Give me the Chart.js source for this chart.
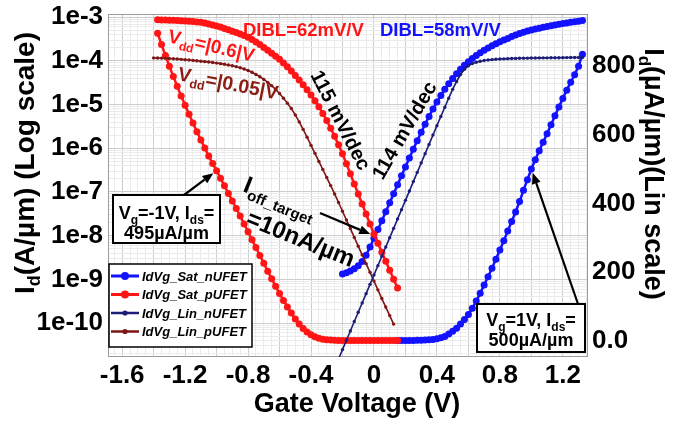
<!DOCTYPE html>
<html>
<head>
<meta charset="utf-8">
<title>UFET Id-Vg</title>
<script src="https://cdn.jsdelivr.net/npm/chart.js@4.4.0/dist/chart.umd.min.js"></script>
<style>
  html, body { margin: 0; padding: 0; background: #fff; }
  #chart { display: block; }
</style>
</head>
<body>
<canvas id="chart" width="683" height="429"></canvas>
<script>
// Gate voltage sweeps (V)
const vgP = [-1.4, -1.375, -1.35, -1.325, -1.3, -1.275, -1.25, -1.225, -1.2, -1.175, -1.15, -1.125, -1.1, -1.075, -1.05, -1.025,
  -1.0, -0.975, -0.95, -0.925, -0.9, -0.875, -0.85, -0.825, -0.8, -0.775, -0.75, -0.725, -0.7, -0.675, -0.65, -0.625,
  -0.6, -0.575, -0.55, -0.525, -0.5, -0.475, -0.45, -0.425, -0.4, -0.375, -0.35, -0.325, -0.3, -0.275, -0.25, -0.225,
  -0.2, -0.175, -0.15, -0.125, -0.1, -0.075, -0.05, -0.025, 0, 0.025, 0.05, 0.075, 0.1, 0.125, 0.15];
const vgN = [-0.225, -0.2, -0.175, -0.15, -0.125, -0.1, -0.075, -0.05, -0.025, 0, 0.025, 0.05, 0.075, 0.1, 0.125, 0.15,
  0.175, 0.2, 0.225, 0.25, 0.275, 0.3, 0.325, 0.35, 0.375, 0.4, 0.425, 0.45, 0.475, 0.5, 0.525, 0.55,
  0.575, 0.6, 0.625, 0.65, 0.675, 0.7, 0.725, 0.75, 0.775, 0.8, 0.825, 0.85, 0.875, 0.9, 0.925, 0.95,
  0.975, 1.0, 1.025, 1.05, 1.075, 1.1, 1.125, 1.15, 1.175, 1.2, 1.225, 1.25, 1.275, 1.3, 1.325];

// pUFET, |Vdd| = 0.6 V: Id in A/um (log axis) and uA/um (lin axis); sweep starts at -1.375 V
const satPLog = [null, 8.77e-4, 8.71e-4, 8.65e-4, 8.59e-4, 8.51e-4, 8.43e-4, 8.34e-4, 8.22e-4, 8.11e-4,
  7.98e-4, 7.83e-4, 7.67e-4, 7.36e-4, 7.03e-4, 6.68e-4, 6.32e-4, 5.96e-4, 5.57e-4, 5.19e-4,
  4.81e-4, 4.47e-4, 4.14e-4, 3.82e-4, 3.51e-4, 3.09e-4, 2.72e-4, 2.37e-4, 2.04e-4, 1.76e-4,
  1.51e-4, 1.29e-4, 1.09e-4, 9.0e-5, 7.33e-5, 5.89e-5, 4.68e-5, 3.67e-5, 2.85e-5, 2.19e-5,
  1.66e-5, 1.23e-5, 8.91e-6, 6.31e-6, 4.32e-6, 2.88e-6, 1.88e-6, 1.20e-6, 7.50e-7, 4.42e-7,
  2.60e-7, 1.53e-7, 9.02e-8, 5.31e-8, 3.13e-8, 1.84e-8, 1.08e-8, 6.68e-9, 4.17e-9, 2.60e-9,
  1.62e-9, 1.01e-9, 6.31e-10];
const satPLin = [null, 896, 863, 831, 800, 770, 741, 713, 686, 660, 634, 609, 585, 561, 538, 516, 495,
  473, 451, 429, 407, 385, 363, 340, 317, 294, 271, 248, 225, 202, 180, 158,
  137, 117, 98, 80, 63, 48, 35, 25, 17, 11, 7, 4, 2.5, 1.5, 0.8, 0.4, 0.2,
  0.1, 0.06, 0.03, 0.02, 0.01, 0.01, 0, 0, 0, 0, 0, 0, 0, 0];
// pUFET, |Vdd| = 0.05 V
const linPLog = [1.175e-4, 1.167e-4, 1.159e-4, 1.148e-4, 1.135e-4, 1.122e-4, 1.107e-4, 1.089e-4, 1.069e-4, 1.050e-4,
  1.030e-4, 1.009e-4, 9.89e-5, 9.66e-5, 9.44e-5, 9.20e-5, 8.95e-5, 8.69e-5, 8.41e-5, 8.11e-5,
  7.78e-5, 7.41e-5, 7.00e-5, 6.53e-5, 6.03e-5, 5.50e-5, 4.92e-5, 4.35e-5, 3.78e-5, 3.24e-5,
  2.72e-5, 2.24e-5, 1.80e-5, 1.41e-5, 1.08e-5, 8.13e-6, 5.82e-6, 4.03e-6, 2.72e-6, 1.80e-6,
  1.17e-6, 7.67e-7, 5.01e-7, 3.27e-7, 2.14e-7, 1.40e-7, 9.02e-8, 5.75e-8, 3.63e-8, 2.29e-8,
  1.45e-8, 9.12e-9, 5.75e-9, 3.63e-9, 2.29e-9, 1.45e-9, 9.12e-10, 5.75e-10, 3.63e-10, 2.32e-10,
  1.48e-10, 9.44e-11];

// nUFET, Vdd = 0.6 V
const satNLog = [null,
  1.32e-9, 1.41e-9, 1.55e-9, 1.74e-9, 2.04e-9, 2.57e-9, 3.55e-9, 5.50e-9, 8.71e-9,
  1.38e-8, 2.21e-8, 3.55e-8, 5.69e-8, 9.12e-8, 1.46e-7, 2.34e-7, 3.76e-7, 6.03e-7, 9.55e-7,
  1.50e-6, 2.32e-6, 3.55e-6, 5.37e-6, 7.94e-6, 1.15e-5, 1.62e-5, 2.24e-5, 3.02e-5, 3.98e-5,
  5.13e-5, 6.46e-5, 7.94e-5, 9.55e-5, 1.14e-4, 1.33e-4, 1.54e-4, 1.76e-4, 1.99e-4, 2.23e-4,
  2.48e-4, 2.74e-4, 3.01e-4, 3.27e-4, 3.63e-4, 3.94e-4, 4.24e-4, 4.54e-4, 4.83e-4, 5.11e-4,
  5.37e-4, 5.64e-4, 5.90e-4, 6.17e-4, 6.43e-4, 6.68e-4, 6.93e-4, 7.18e-4, 7.43e-4, 7.67e-4,
  7.93e-4, 8.17e-4, 8.41e-4];
const satNLin = [null, null, null, null, null, null, null, null, null, null, null, null, null, null, null,
  0, 0, 0.1, 0.2, 0.3, 0.5, 0.8, 1.2, 2, 3, 5, 8, 12, 19, 27, 36, 48, 61, 76, 94,
  115, 138, 162, 186, 211, 237, 264, 291, 319, 347, 375, 405, 438, 469, 500,
  527, 553, 578, 603, 629, 655, 681, 706, 730, 753, 775, 800, 835];
// nUFET, Vdd = 0.05 V
const linNLog = [1.50e-11, 2.46e-11, 4.02e-11, 6.58e-11, 1.08e-10, 1.76e-10, 2.88e-10, 4.71e-10, 7.69e-10,
  1.26e-9, 2.06e-9, 3.37e-9, 5.51e-9, 9.02e-9, 1.47e-8, 2.41e-8, 3.94e-8, 6.44e-8,
  1.05e-7, 1.73e-7, 2.82e-7, 4.61e-7, 7.55e-7, 1.23e-6, 2.02e-6, 3.30e-6, 5.37e-6, 8.71e-6,
  1.41e-5, 2.24e-5, 3.39e-5, 4.90e-5, 6.46e-5, 7.76e-5, 8.71e-5, 9.38e-5, 9.86e-5,
  1.023e-4, 1.052e-4, 1.074e-4, 1.091e-4, 1.107e-4, 1.119e-4, 1.130e-4, 1.138e-4, 1.146e-4, 1.151e-4,
  1.156e-4, 1.161e-4, 1.167e-4, 1.172e-4, 1.175e-4, 1.178e-4, 1.180e-4, 1.183e-4, 1.186e-4, 1.189e-4,
  1.191e-4, 1.194e-4, 1.197e-4, 1.199e-4, 1.202e-4, 1.205e-4];

// Axis ticks
const xTicks = [-1.6, -1.2, -0.8, -0.4, 0, 0.4, 0.8, 1.2];
const xTickLabels = ['-1.6', '-1.2', '-0.8', '-0.4', '0', '0.4', '0.8', '1.2'];
const logTicks = [1e-10, 1e-9, 1e-8, 1e-7, 1e-6, 1e-5, 1e-4, 1e-3];
const logTickLabels = ['1e-10', '1e-9', '1e-8', '1e-7', '1e-6', '1e-5', '1e-4', '1e-3'];
const linTicks = [0, 200, 400, 600, 800];
const linTickLabels = ['0.0', '200', '400', '600', '800'];

const FONT = '"Liberation Sans", Arial, sans-serif';
const BLUE = '#1212ff', RED = '#ff1515', NAVY = '#1d1d78', MAROON = '#7e1616';
const GRID_MAJOR = '#cdcdcd', GRID_MINOR = '#ebebeb';

Chart.defaults.font.family = FONT;

function toPoints(xs, ys) {
  const out = [];
  ys.forEach((y, i) => { if (y !== null) out.push({ x: xs[i], y: y }); });
  return out;
}

function pickLabel(values, labels, v, useLog) {
  const i = values.findIndex(t => useLog ? Math.abs(Math.log10(t) - Math.log10(v)) < 1e-6 : Math.abs(t - v) < 1e-6);
  return i >= 0 ? labels[i] : '';
}

const satStyle = c => ({ borderColor: c, backgroundColor: c, pointBackgroundColor: c, borderWidth: 2.5, pointRadius: 3.5, pointBorderWidth: 0, pointHoverRadius: 0 });
const linStyle = c => ({ borderColor: c, backgroundColor: c, pointBackgroundColor: c, borderWidth: 1.6, pointRadius: 1.7, pointBorderWidth: 0, pointHoverRadius: 0 });

const datasets = [
  { label: 'IdVg_Lin_nUFET', data: toPoints(vgN, linNLog), yAxisID: 'y', order: 0, legendRank: 2, ...linStyle(NAVY) },
  { label: 'IdVg_Lin_pUFET', data: toPoints(vgP, linPLog), yAxisID: 'y', order: 1, legendRank: 3, ...linStyle(MAROON) },
  { label: 'IdVg_Sat_pUFET', data: toPoints(vgP, satPLog), yAxisID: 'y', order: 2, legendRank: 1, ...satStyle(RED) },
  { label: 'IdVg_Sat_pUFET', data: toPoints(vgP, satPLin), yAxisID: 'y2', order: 3, ...satStyle(RED) },
  { label: 'IdVg_Sat_nUFET', data: toPoints(vgN, satNLog), yAxisID: 'y', order: 4, legendRank: 0, ...satStyle(BLUE) },
  { label: 'IdVg_Sat_nUFET', data: toPoints(vgN, satNLin), yAxisID: 'y2', order: 5, ...satStyle(BLUE) }
];

// text made of runs: [text, size, baseline shift]
function drawRuns(ctx, runs, x, y, align, style) {
  const fontOf = r => `${style || ''} bold ${r[1]}px ${FONT}`;
  let w = 0;
  runs.forEach(r => { ctx.font = fontOf(r); w += ctx.measureText(r[0]).width; });
  let cx = align === 'center' ? x - w / 2 : x;
  ctx.textAlign = 'left';
  ctx.textBaseline = 'alphabetic';
  runs.forEach(r => {
    ctx.font = fontOf(r);
    ctx.fillText(r[0], cx, y + (r[2] || 0));
    cx += ctx.measureText(r[0]).width;
  });
}

function rotated(ctx, x, y, deg, fn) {
  ctx.save();
  ctx.translate(x, y);
  ctx.rotate(deg * Math.PI / 180);
  fn();
  ctx.restore();
}

function arrow(ctx, x0, y0, x1, y1) {
  const a = Math.atan2(y1 - y0, x1 - x0);
  const tx = x1 - 4 * Math.cos(a), ty = y1 - 4 * Math.sin(a);
  const L = 11, W = 4.5;
  const bx = tx - L * Math.cos(a), by = ty - L * Math.sin(a);
  ctx.strokeStyle = '#000';
  ctx.fillStyle = '#000';
  ctx.lineWidth = 2.2;
  ctx.beginPath(); ctx.moveTo(x0, y0); ctx.lineTo(bx, by); ctx.stroke();
  ctx.beginPath();
  ctx.moveTo(tx, ty);
  ctx.lineTo(bx - W * Math.sin(a), by + W * Math.cos(a));
  ctx.lineTo(bx + W * Math.sin(a), by - W * Math.cos(a));
  ctx.closePath();
  ctx.fill();
}

function box(ctx, x, y, w, h) {
  ctx.fillStyle = '#fff';
  ctx.fillRect(x, y, w, h);
  ctx.strokeStyle = '#000';
  ctx.lineWidth = 2;
  ctx.strokeRect(x, y, w, h);
}

const decorations = {
  id: 'decorations',
  beforeDatasetsDraw(chart) {
    const { ctx, chartArea: a } = chart;
    ctx.save();
    ctx.strokeStyle = '#9c9c9c';
    ctx.lineWidth = 1;
    ctx.strokeRect(a.left + 0.5, a.top + 0.5, a.width - 1, a.height - 1);
    ctx.restore();
  },
  afterDatasetsDraw(chart) {
    const { ctx, scales } = chart;
    const sx = scales.x, sLog = scales.y, sLin = scales.y2;
    ctx.save();

    // DIBL labels
    ctx.fillStyle = RED;
    drawRuns(ctx, [['DIBL=62mV/V', 18.5]], 243, 36, 'left');
    ctx.fillStyle = BLUE;
    drawRuns(ctx, [['DIBL=58mV/V', 18.5]], 380, 36, 'left');

    // drain bias labels
    rotated(ctx, 167, 42, 13, () => {
      ctx.fillStyle = RED;
      drawRuns(ctx, [['V', 19], ['dd', 12, 5], ['=|0.6|V', 19]], 0, 0, 'left');
    });
    rotated(ctx, 177, 80, 11, () => {
      ctx.fillStyle = '#8a1c14';
      drawRuns(ctx, [['V', 19.5], ['dd', 12.5, 5], ['=|0.05|V', 19.5]], 0, 0, 'left');
    });

    // subthreshold slopes
    rotated(ctx, 341, 120, 63, () => { ctx.fillStyle = '#000'; drawRuns(ctx, [['115 mV/dec', 20]], 0, 7, 'center'); });
    rotated(ctx, 404, 130, -60, () => { ctx.fillStyle = '#000'; drawRuns(ctx, [['114 mV/dec', 20]], 0, 7, 'center'); });

    // off-current target
    rotated(ctx, 242, 191, 22, () => {
      ctx.fillStyle = '#000';
      drawRuns(ctx, [['I', 24], ['off_target', 15, 6]], 0, 0, 'left');
      drawRuns(ctx, [['=10nA/µm', 24]], 15, 30, 'left');
    });
    arrow(ctx, 320, 213, sx.getPixelForValue(0), sLog.getPixelForValue(1e-8));

    // on-current call-outs
    arrow(ctx, 184, 195, sx.getPixelForValue(-1.0), sLin.getPixelForValue(495));
    box(ctx, 113, 195, 107, 48);
    ctx.fillStyle = '#000';
    drawRuns(ctx, [['V', 18], ['g', 12, 5], ['=-1V, I', 18], ['ds', 12, 5], ['=', 18]], 166.5, 219, 'center');
    drawRuns(ctx, [['495µA/µm', 18]], 166.5, 239, 'center');

    arrow(ctx, 578, 304, sx.getPixelForValue(1.0), sLin.getPixelForValue(500));
    box(ctx, 477, 304, 108, 48);
    ctx.fillStyle = '#000';
    drawRuns(ctx, [['V', 18], ['g', 12, 5], ['=1V, I', 18], ['ds', 12, 5], ['=', 18]], 531, 326, 'center');
    drawRuns(ctx, [['500µA/µm', 18]], 531, 346, 'center');

    // legend
    const entries = chart.data.datasets.filter(d => d.legendRank !== undefined)
      .sort((p, q) => p.legendRank - q.legendRank);
    ctx.fillStyle = '#fff';
    ctx.fillRect(109, 264, 143, 83);
    ctx.strokeStyle = '#000';
    ctx.lineWidth = 1.5;
    ctx.strokeRect(109, 264, 143, 83);
    entries.forEach((d, i) => {
      const y = 276 + i * 18.5;
      const big = d.pointRadius > 3;
      ctx.strokeStyle = d.borderColor;
      ctx.lineWidth = big ? 3 : 2.5;
      ctx.beginPath(); ctx.moveTo(111, y); ctx.lineTo(139, y); ctx.stroke();
      ctx.fillStyle = d.borderColor;
      ctx.beginPath(); ctx.arc(125, y, big ? 4 : 2.6, 0, Math.PI * 2); ctx.fill();
      ctx.fillStyle = '#000';
      drawRuns(ctx, [[d.label, 13]], 142, y + 4.7, 'left', 'italic');
    });

    ctx.restore();
  },
  afterDraw(chart) {
    const { ctx } = chart;
    ctx.save();
    ctx.fillStyle = '#000';
    drawRuns(ctx, [['Gate Voltage (V)', 27]], 357, 412, 'center');
    rotated(ctx, 34, 163, -90, () => {
      ctx.fillStyle = '#000';
      drawRuns(ctx, [['I', 28], ['d', 18, 6], ['(A/µm) (Log scale)', 28]], 0, 0, 'center');
    });
    rotated(ctx, 645, 174, 90, () => {
      ctx.fillStyle = '#000';
      drawRuns(ctx, [['I', 27], ['d', 17, 6], ['(µA/µm)(Lin scale)', 27]], 0, 0, 'center');
    });
    ctx.restore();
  }
};

const tickFont = { size: 26, weight: 'bold' };

new Chart(document.getElementById('chart').getContext('2d'), {
  type: 'line',
  data: { datasets: datasets },
  options: {
    responsive: false,
    animation: false,
    events: [],
    devicePixelRatio: 1,
    layout: { padding: { top: 14, left: 0, right: 0, bottom: 0 } },
    elements: { line: { tension: 0 } },
    plugins: { legend: { display: false }, tooltip: { enabled: false } },
    scales: {
      x: {
        type: 'linear', min: -1.69, max: 1.36,
        afterBuildTicks: s => {
          const t = [];
          for (let k = -33; k <= 27; k++) t.push({ value: +(k * 0.05).toFixed(2) });
          s.ticks = t;
        },
        afterFit: s => { s.height = 72; s.paddingLeft = 0; s.paddingRight = 0; },
        grid: {
          drawTicks: false,
          color: c => {
            const r = c.tick.value / 0.2;
            return Math.abs(r - Math.round(r)) < 1e-6 ? GRID_MAJOR : GRID_MINOR;
          }
        },
        border: { display: false },
        ticks: {
          autoSkip: false, maxRotation: 0, minRotation: 0, padding: 3, color: '#000', font: tickFont,
          callback: v => pickLabel(xTicks, xTickLabels, v, false)
        }
      },
      y: {
        type: 'logarithmic', position: 'left', min: 1.667e-11, max: 1.19e-3,
        afterBuildTicks: s => {
          const t = [];
          for (let e = -11; e <= -3; e++) {
            for (let m = 1; m <= 9; m++) {
              const v = m * Math.pow(10, e);
              if (v >= s.min && v <= s.max) t.push({ value: v });
            }
          }
          s.ticks = t;
        },
        afterFit: s => { s.width = 108; s.paddingTop = 0; s.paddingBottom = 0; },
        grid: {
          drawTicks: false,
          color: c => {
            const l = Math.log10(c.tick.value);
            return Math.abs(l - Math.round(l)) < 1e-6 ? GRID_MAJOR : GRID_MINOR;
          }
        },
        border: { display: false },
        ticks: {
          autoSkip: false, padding: 5, color: '#000', font: tickFont,
          callback: v => pickLabel(logTicks, logTickLabels, v, true)
        }
      },
      y2: {
        type: 'linear', position: 'right', min: -48, max: 952,
        afterBuildTicks: s => { s.ticks = linTicks.map(v => ({ value: v })); },
        afterFit: s => { s.width = 95; s.paddingTop = 0; s.paddingBottom = 0; },
        grid: { display: false, drawTicks: false },
        border: { display: false },
        ticks: {
          autoSkip: false, padding: 4, color: '#000', font: tickFont,
          callback: v => pickLabel(linTicks, linTickLabels, v, false)
        }
      }
    }
  },
  plugins: [decorations]
});
</script>
</body>
</html>
